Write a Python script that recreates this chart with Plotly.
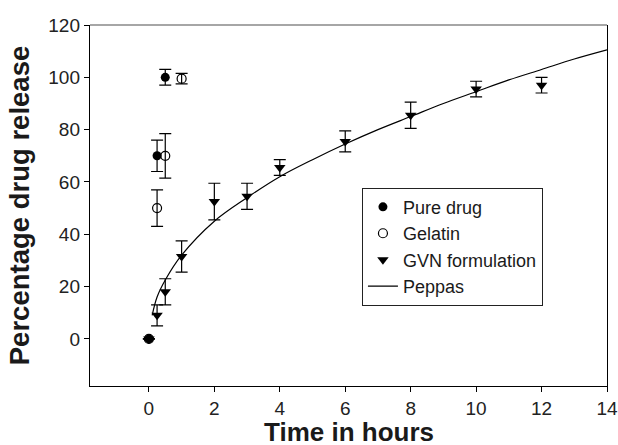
import plotly.graph_objects as go

pure_t = [0, 0.25, 0.5]
pure_y = [0, 70, 100]
pure_err = [0, 6, 3]

gel_t = [0, 0.25, 0.5, 1]
gel_y = [0, 50, 70, 99.5]
gel_err = [0, 7, 8.5, 2]

gvn_t = [0, 0.25, 0.5, 1, 2, 3, 4, 6, 8, 10, 12]
gvn_y = [0, 9, 18, 31.5, 52.5, 54.5, 65.5, 75.5, 85.5, 95.5, 97]
gvn_err = [0, 4, 5, 6, 7, 5, 3, 4, 5, 3, 3]

# Peppas fit line
peppas_t = [0.1, 0.25, 0.5, 1, 2, 3, 4, 5, 6, 7, 8, 9, 10, 11, 12, 13, 14]
peppas_y = [9, 16, 22.5, 32, 45, 54, 62, 68.5, 74.5, 80, 85, 90, 94.5, 99, 103, 107, 110.5]

FONT = "Liberation Sans, Arial"
err_style = dict(type="data", visible=True, color="black", thickness=1.2, width=6)

fig = go.Figure()
fig.add_trace(go.Scatter(
    x=gvn_t, y=gvn_y, mode="markers", name="GVN formulation",
    marker=dict(symbol="triangle-down", size=10, color="black"),
    error_y=dict(array=gvn_err, **err_style), legendrank=3,
))
fig.add_trace(go.Scatter(
    x=gel_t, y=gel_y, mode="markers", name="Gelatin",
    marker=dict(symbol="circle-open", size=9, color="black", line=dict(width=1.2)),
    error_y=dict(array=gel_err, **err_style), legendrank=2,
))
fig.add_trace(go.Scatter(
    x=pure_t, y=pure_y, mode="markers", name="Pure drug",
    marker=dict(symbol="circle", size=9, color="black"),
    error_y=dict(array=pure_err, **err_style), legendrank=1,
))
fig.add_trace(go.Scatter(
    x=peppas_t, y=peppas_y, mode="lines", name="Peppas",
    line=dict(color="black", width=1.2, shape="spline"), legendrank=4,
))

axis_common = dict(
    showline=True, linecolor="black", linewidth=1.4, automargin=False,
    ticks="outside", ticklen=5, tickcolor="black", showgrid=False, zeroline=False,
    tickfont=dict(family=FONT, size=19, color="#222"),
)

fig.update_xaxes(range=[-1.8, 14], tickvals=list(range(0, 15, 2)), mirror=False,
                 **axis_common)
fig.update_yaxes(range=[-18, 120], tickvals=list(range(0, 121, 20)), mirror=True,
                 title=dict(text="<b>Percentage drug release</b>", standoff=10,
                            font=dict(family=FONT, size=27.5, color="#1a1a1a")),
                 **axis_common)

# x title as an annotation so it can sit lower than plotly's margin limit allows
fig.add_annotation(text="<b>Time in hours</b>", xref="paper", yref="paper",
                   x=0.5, y=0, xanchor="center", yanchor="middle", yshift=-46,
                   showarrow=False, font=dict(family=FONT, size=26, color="#1a1a1a"))

# top frame line is grey in the original
fig.add_shape(type="line", xref="paper", yref="paper", x0=0, x1=1, y0=1, y1=1,
              line=dict(color="#888888", width=1.6))

fig.update_layout(
    width=618, height=445,
    margin=dict(l=90, r=11, t=25, b=59),
    plot_bgcolor="white", paper_bgcolor="white",
    legend=dict(x=0.526, y=0.386, xanchor="left", yanchor="middle",
                bordercolor="#222", borderwidth=1, bgcolor="white",
                font=dict(family=FONT, size=18, color="#1a1a1a"),
                tracegroupgap=0),
)

# drop the default page margin so the figure fills the window exactly
fig.write_html("out.html", config={"displayModeBar": False},
               post_script="document.body.style.margin='0';document.body.style.overflow='hidden';")
